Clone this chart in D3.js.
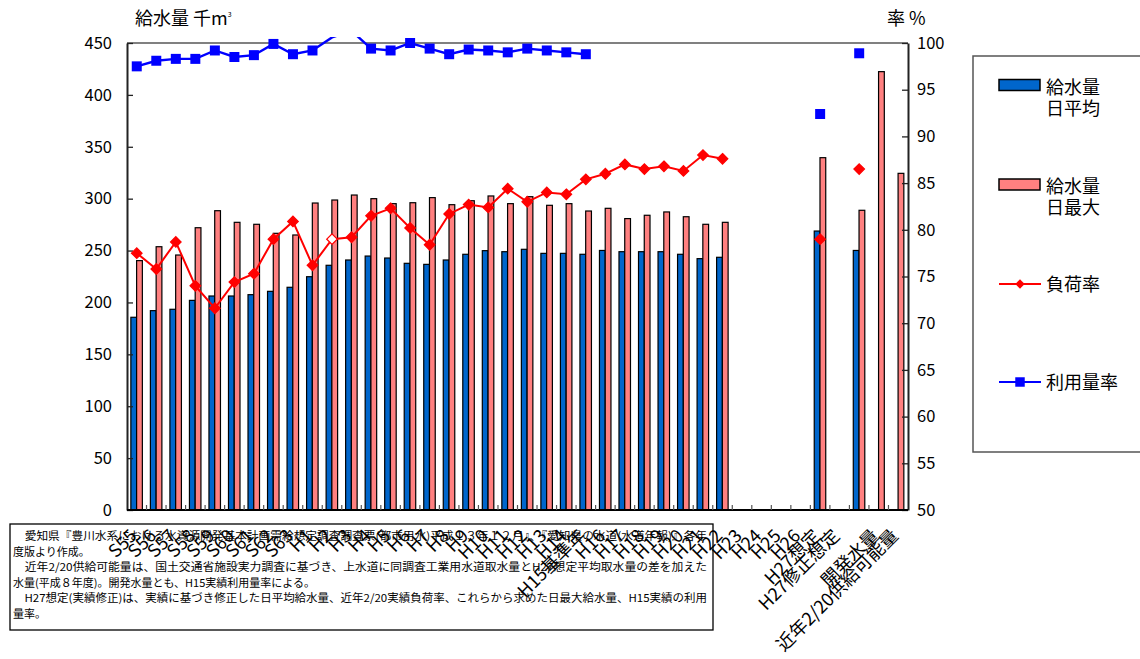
<!DOCTYPE html>
<html>
<head>
<meta charset="utf-8">
<script src="https://cdn.jsdelivr.net/npm/d3@7"></script>
<style>
body { margin: 0; background: #fff; }
svg { display: block; }
text { font-family: "Noto Sans CJK JP", "Noto Sans", sans-serif; fill: #000; }
</style>
</head>
<body>
<div id="main"></div>
<script>
// categories along the bottom (one empty slot between the two H27 groups)
const categories = ["S55", "S56", "S57", "S58", "S59", "S60", "S61", "S62", "S63", "H1",
    "H2", "H3", "H4", "H5", "H6", "H7", "H8", "H9", "H10", "H11",
    "H12", "H13", "H14", "H15基準年", "H16", "H17", "H18", "H19", "H20", "H21",
    "H22", "H23", "H24", "H25", "H26", "H27想定", "H27修正想定", " ", "開発水量", "近年2/20供給可能量"];

// 給水量 日平均 (千m3)
const dailyAvg = [185.7, 192.1, 193.4, 202.0, 206.2, 206.2, 207.5, 210.7, 214.6, 224.8,
    235.8, 240.9, 244.7, 242.8, 237.7, 236.7, 240.9, 246.4, 249.9, 248.9,
    251.2, 247.3, 247.3, 246.4, 250.1, 248.9, 248.9, 248.9, 246.4, 242.2,
    243.5, null, null, null, null, 268.8, null, 250.1, null, null];

// 給水量 日最大 (千m3)
const dailyMax = [240.3, 253.7, 245.7, 272.0, 288.4, 277.2, 275.3, 266.6, 265.0, 295.8,
    298.7, 303.5, 300.0, 295.2, 296.1, 301.0, 294.2, 298.0, 302.6, 295.2,
    301.9, 293.6, 295.2, 288.1, 290.7, 280.8, 284.0, 287.2, 282.6, 275.3,
    277.2, null, null, null, null, 339.5, null, 288.8, 422.4, 324.4];

// 負荷率 (%)
const loadRate = [77.5, 75.8, 78.7, 74.0, 71.6, 74.4, 75.3, 79.0, 80.9, 76.2,
    79.0, 79.2, 81.5, 82.3, 80.2, 78.4, 81.7, 82.7, 82.4, 84.4,
    83.0, 84.0, 83.8, 85.4, 86.0, 87.0, 86.5, 86.8, 86.3, 88.0,
    87.6, null, null, null, null, 79.0, null, 86.5, null, null];

// 利用量率 (%)
const useRate = [97.5, 98.1, 98.3, 98.3, 99.2, 98.5, 98.7, 99.9, 98.8, 99.2,
    100.6, 101.3, 99.4, 99.2, 100.0, 99.4, 98.8, 99.3, 99.2, 99.0,
    99.4, 99.2, 99.0, 98.8, null, null, null, null, null, null,
    null, null, null, null, null, 92.4, null, 98.9, null, null];

// load-rate points drawn with an open marker
const hollowLoad = ["H2"];

const leftTicks = [0, 50, 100, 150, 200, 250, 300, 350, 400, 450];
const rightTicks = [50, 55, 60, 65, 70, 75, 80, 85, 90, 95, 100];

const noteLines = [
    "\u3000愛知県『豊川水系における水資源開発基本計画需給想定調査調査票(都市用水)平成１３年１２月』、『愛知県の水道(水道年報)』各年",
    "度版より作成。",
    "\u3000近年2/20供給可能量は、国土交通省施設実力調査に基づき、上水道に同調査工業用水道取水量とH27想定平均取水量の差を加えた",
    "水量(平成８年度)。開発水量とも、H15実績利用量率による。",
    "\u3000H27想定(実績修正)は、実績に基づき修正した日平均給水量、近年2/20実績負荷率、これらから求めた日最大給水量、H15実績の利用",
    "量率。"
];

const width = 1140, height = 659;
const plot = {left: 127, right: 908, top: 43, bottom: 510};

let svg = d3.select("#main").append("svg")
    .attr("width", width)
    .attr("height", height);

const x = d3.scaleBand().domain(categories).range([plot.left, plot.right]);
const x1 = d3.scaleBand().domain(["avg", "max"])
    .range([x.bandwidth() / 2 - 5.9, x.bandwidth() / 2 + 5.6]);
const yL = d3.scaleLinear().domain([0, 450]).range([plot.bottom, plot.top]);
const yR = d3.scaleLinear().domain([50, 100]).range([plot.bottom, plot.top]);

const rows = categories.map((c, i) => ({
    cat: c, avg: dailyAvg[i], max: dailyMax[i], load: loadRate[i], use: useRate[i]
}));

// note box (category labels overlap it)
const note = svg.append("g");
note.append("rect")
    .attr("x", 10).attr("y", 524)
    .attr("width", 703).attr("height", 106)
    .attr("fill", "#fff")
    .attr("stroke", "#000")
    .attr("stroke-width", 1.3);
noteLines.forEach((t, i) => {
    const tx = note.append("text")
        .attr("x", 13)
        .attr("y", 540 + i * 15.6)
        .style("font-size", "11px")
        .text(t);
    if (i % 2 === 0) tx.attr("textLength", 694).attr("lengthAdjust", "spacingAndGlyphs");
});

// plot frame top
svg.append("line")
    .attr("x1", plot.left).attr("x2", plot.right)
    .attr("y1", plot.top).attr("y2", plot.top)
    .attr("stroke", "#808080").attr("stroke-width", 2);

// bars
const barG = svg.append("g").selectAll("g")
    .data(rows)
    .join("g")
    .attr("transform", d => `translate(${x(d.cat)},0)`);

barG.filter(d => d.avg != null).append("rect")
    .attr("x", x1("avg"))
    .attr("width", x1.bandwidth())
    .attr("y", d => yL(d.avg))
    .attr("height", d => yL(0) - yL(d.avg))
    .attr("fill", "#0066CC")
    .attr("stroke", "#000")
    .attr("stroke-width", 1.2);

barG.filter(d => d.max != null).append("rect")
    .attr("x", x1("max"))
    .attr("width", x1.bandwidth())
    .attr("y", d => yL(d.max))
    .attr("height", d => yL(0) - yL(d.max))
    .attr("fill", "#FF8080")
    .attr("stroke", "#000")
    .attr("stroke-width", 1.2);

// axes
const leftAxis = svg.append("g")
    .attr("transform", `translate(${plot.left},0)`)
    .call(d3.axisLeft(yL).tickValues(leftTicks).tickSize(-6).tickSizeOuter(0).tickPadding(15));
const rightAxis = svg.append("g")
    .attr("transform", `translate(${plot.right},0)`)
    .call(d3.axisRight(yR).tickValues(rightTicks).tickSize(-6).tickSizeOuter(0).tickPadding(9));
[leftAxis, rightAxis].forEach(a => {
    a.select(".domain").attr("stroke", "#222").attr("stroke-width", 2);
    a.selectAll(".tick line").attr("stroke", "#222").attr("stroke-width", 1.3);
    a.selectAll(".tick text").style("font-size", "16.5px")
        .style("font-family", "'Noto Sans CJK JP', sans-serif");
});

// category axis
const bottom = svg.append("g");
bottom.append("line")
    .attr("x1", plot.left).attr("x2", plot.right)
    .attr("y1", plot.bottom).attr("y2", plot.bottom)
    .attr("stroke", "#000").attr("stroke-width", 2);
bottom.selectAll("line.tk")
    .data(categories.slice(1))
    .join("line")
    .attr("class", "tk")
    .attr("x1", d => x(d)).attr("x2", d => x(d))
    .attr("y1", plot.bottom - 5).attr("y2", plot.bottom)
    .attr("stroke", "#555").attr("stroke-width", 1.2);

// lines (clipped a little above the frame, like the original)
svg.append("defs").append("clipPath").attr("id", "clip")
    .append("rect")
    .attr("x", plot.left).attr("y", plot.top - 6)
    .attr("width", plot.right - plot.left).attr("height", plot.bottom - plot.top + 6);

const cx = d => x(d.cat) + x.bandwidth() / 2;

const loadLine = d3.line().defined(d => d.load != null).x(cx).y(d => yR(d.load));
const useLine = d3.line().defined(d => d.use != null).x(cx).y(d => yR(d.use));

const lines = svg.append("g").attr("clip-path", "url(#clip)");
lines.append("path")
    .datum(rows)
    .attr("d", loadLine)
    .attr("fill", "none")
    .attr("stroke", "#FF0000")
    .attr("stroke-width", 2);
lines.append("path")
    .datum(rows)
    .attr("d", useLine)
    .attr("fill", "none")
    .attr("stroke", "#0000FF")
    .attr("stroke-width", 2.4);

const diamond = d3.symbol().type(d3.symbolDiamond2).size(70);
svg.append("g").selectAll("path")
    .data(rows.filter(d => d.load != null))
    .join("path")
    .attr("d", diamond)
    .attr("transform", d => `translate(${cx(d)},${yR(d.load)})`)
    .attr("fill", d => hollowLoad.includes(d.cat) ? "#fff" : "#FF0000")
    .attr("stroke", "#FF0000")
    .attr("stroke-width", 1.3);

const square = d3.symbol().type(d3.symbolSquare).size(100);
svg.append("g").selectAll("path")
    .data(rows.filter(d => d.use != null && d.use <= 100.2))
    .join("path")
    .attr("d", square)
    .attr("transform", d => `translate(${cx(d)},${yR(d.use)})`)
    .attr("fill", "#0000FF");

// rotated category labels
svg.append("g").selectAll("text")
    .data(categories)
    .join("text")
    .attr("text-anchor", "end")
    .attr("transform", d => `translate(${x(d) + x.bandwidth() / 2 + 1},537) rotate(-45)`)
    .style("font-size", "18px")
    .text(d => d);

// axis titles
const lt = svg.append("text").attr("x", 135).attr("y", 25).style("font-size", "18px");
lt.append("tspan").text("給水量 千m");
lt.append("tspan").attr("dy", -8).style("font-size", "7px").text("3");
svg.append("text").attr("x", 887).attr("y", 25).style("font-size", "18px").text("率 %");

// legend
const lg = svg.append("g");
lg.append("rect")
    .attr("x", 973).attr("y", 56)
    .attr("width", 180).attr("height", 396)
    .attr("fill", "#fff")
    .attr("stroke", "#555").attr("stroke-width", 1.5);

const legendItems = [
    {kind: "bar", fill: "#0066CC", y: 85, text: ["給水量", "日平均"], ty: 94},
    {kind: "bar", fill: "#FF8080", y: 184.5, text: ["給水量", "日最大"], ty: 192.5},
    {kind: "line", color: "#FF0000", y: 284, text: ["負荷率"], ty: 291, sym: d3.symbolDiamond2, size: 55},
    {kind: "line", color: "#0000FF", y: 382, text: ["利用量率"], ty: 389, sym: d3.symbolSquare, size: 90}
];
legendItems.forEach(it => {
    if (it.kind === "bar") {
        lg.append("rect")
            .attr("x", 999).attr("y", it.y - 5.5)
            .attr("width", 41).attr("height", 11)
            .attr("fill", it.fill)
            .attr("stroke", "#000").attr("stroke-width", 1.5);
    } else {
        lg.append("line")
            .attr("x1", 999).attr("x2", 1041)
            .attr("y1", it.y).attr("y2", it.y)
            .attr("stroke", it.color).attr("stroke-width", 2);
        lg.append("path")
            .attr("d", d3.symbol().type(it.sym).size(it.size))
            .attr("transform", `translate(1020,${it.y})`)
            .attr("fill", it.color);
    }
    const tx = lg.append("text")
        .attr("x", 1046)
        .attr("y", it.ty)
        .style("font-size", "18px");
    it.text.forEach((t, j) => {
        tx.append("tspan")
            .attr("x", 1046)
            .attr("dy", j === 0 ? 0 : 21)
            .text(t);
    });
});
</script>
</body>
</html>
